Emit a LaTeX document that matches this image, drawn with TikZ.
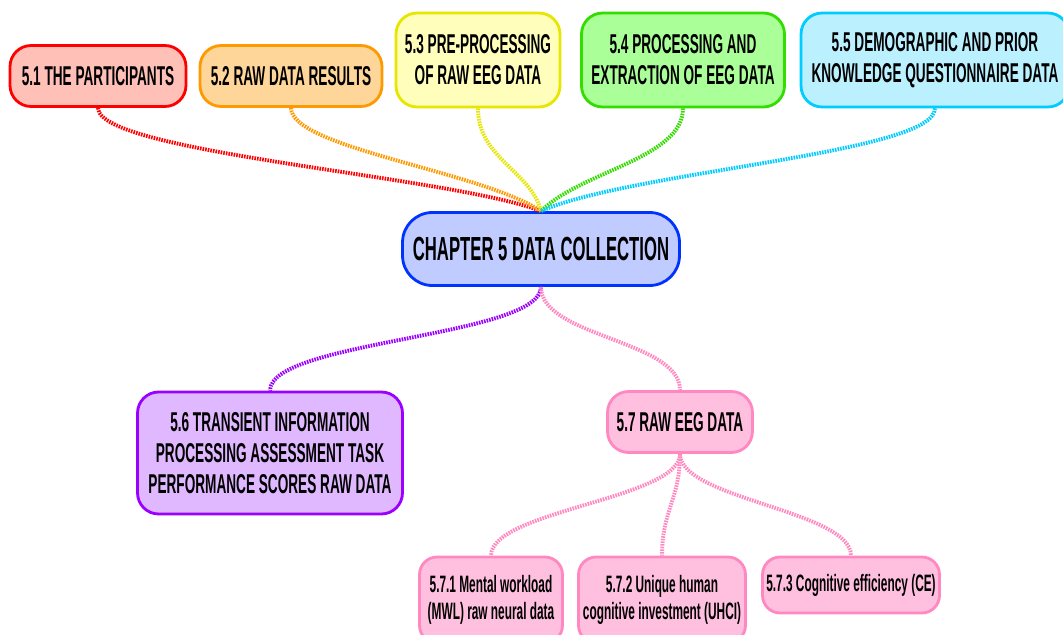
\documentclass[tikz,border=0pt]{standalone}
\usepackage{fontspec}
\usepackage{xcolor}
\usepackage{tikz}
\usetikzlibrary{positioning,calc}
\newfontfamily\condfont{Liberation Sans}[FakeStretch=0.5]

\definecolor{redline}{HTML}{FF0000}\definecolor{redfill}{HTML}{FFC0B8}
\definecolor{orgline}{HTML}{FF9900}\definecolor{orgfill}{HTML}{FFD699}
\definecolor{yelline}{HTML}{E6E600}\definecolor{yelfill}{HTML}{FFFFBB}
\definecolor{grnline}{HTML}{33DD00}\definecolor{grnfill}{HTML}{AAFF99}
\definecolor{bluline}{HTML}{00CCFF}\definecolor{blufill}{HTML}{BBF0FF}
\definecolor{rootline}{HTML}{0033FF}\definecolor{rootfill}{HTML}{C0CCFF}
\definecolor{purline}{HTML}{9900FF}\definecolor{purfill}{HTML}{E0B8FF}
\definecolor{pnkline}{HTML}{FF88C0}\definecolor{pnkfill}{HTML}{FFC0E0}

\begin{document}
\begin{tikzpicture}[
		x=0.02cm, y=-0.02cm,
		topic/.style={draw, line width=1.6pt, rounded corners=12pt, align=center, inner sep=2pt,
			font=\condfont\bfseries\fontsize{15.5}{17.5}\selectfont},
		sub/.style={topic, rounded corners=10pt, font=\condfont\bfseries\fontsize{13.5}{15}\selectfont},
		link/.style={line width=2.2pt, dash pattern=on 0.9pt off 0.6pt}
	]
	\useasboundingbox (0,0) rectangle (1063,635);
	
	% centre
	\node[topic, draw=rootline, fill=rootfill, rounded corners=17pt, minimum width=5.54cm, minimum height=1.46cm,
		font=\condfont\bfseries\fontsize{19}{23}\selectfont] (root) at (541,249) {CHAPTER 5 DATA COLLECTION};
	
	% upper row
	\node[topic, draw=redline, fill=redfill, minimum width=3.52cm, minimum height=1.22cm] (p51) at (98,76) {5.1 THE PARTICIPANTS};
	\node[topic, draw=orgline, fill=orgfill, minimum width=3.64cm, minimum height=1.22cm] (p52) at (291,76) {5.2 RAW DATA RESULTS};
	\node[topic, draw=yelline, fill=yelfill, minimum width=3.28cm, minimum height=1.88cm] (p53) at (478,60) {5.3 PRE-PROCESSING\\OF RAW EEG DATA};
	\node[topic, draw=grnline, fill=grnfill, minimum width=4.06cm, minimum height=1.88cm] (p54) at (683,60) {5.4 PROCESSING AND\\EXTRACTION OF EEG DATA};
	\node[topic, draw=bluline, fill=blufill, minimum width=5.36cm, minimum height=1.88cm] (p55) at (935,60) {5.5 DEMOGRAPHIC AND PRIOR\\KNOWLEDGE QUESTIONNAIRE DATA};
	
	% lower part
	\node[topic, draw=purline, fill=purfill, minimum width=5.3cm, minimum height=2.44cm] (p56) at (270,453) {5.6 TRANSIENT INFORMATION\\PROCESSING ASSESSMENT TASK\\PERFORMANCE SCORES RAW DATA};
	\node[topic, draw=pnkline, fill=pnkfill, minimum width=2.9cm, minimum height=1.22cm] (p57) at (680,422) {5.7 RAW EEG DATA};
	\node[sub, draw=pnkline, fill=pnkfill, minimum width=2.86cm, minimum height=1.72cm] (p571) at (491,600) {5.7.1 Mental workload\\(MWL) raw neural data};
	\node[sub, draw=pnkline, fill=pnkfill, minimum width=3.34cm, minimum height=1.72cm] (p572) at (662,600) {5.7.2 Unique human\\cognitive investment (UHCI)};
	\node[sub, draw=pnkline, fill=pnkfill, minimum width=3.54cm, minimum height=1.12cm] (p573) at (851,585) {5.7.3 Cognitive efficiency (CE)};
	
	% branches to the centre
	\draw[link, redline] (p51.south) .. controls +(0,45) and +(-90,-35) .. (root.north);
	\draw[link, orgline] (p52.south) .. controls +(0,40) and +(-60,-40) .. (root.north);
	\draw[link, yelline] (p53.south) .. controls +(0,50) and +(-10,-40) .. (root.north);
	\draw[link, grnline] (p54.south) .. controls +(0,50) and +(40,-40) .. (root.north);
	\draw[link, bluline] (p55.south) .. controls +(0,45) and +(90,-40) .. (root.north);
	\draw[link, purline] (root.south) .. controls +(0,50) and +(0,-50) .. (p56.north);
	\draw[link, pnkline] (root.south) .. controls +(0,50) and +(0,-50) .. (p57.north);
	% 5.7 children
	\draw[link, pnkline] (p57.south) .. controls +(0,45) and +(0,-45) .. (p571.north);
	\draw[link, pnkline] (p57.south) .. controls +(0,45) and +(0,-45) .. (p572.north);
	\draw[link, pnkline] (p57.south) .. controls +(0,45) and +(0,-45) .. (p573.north);
\end{tikzpicture}
\end{document}
